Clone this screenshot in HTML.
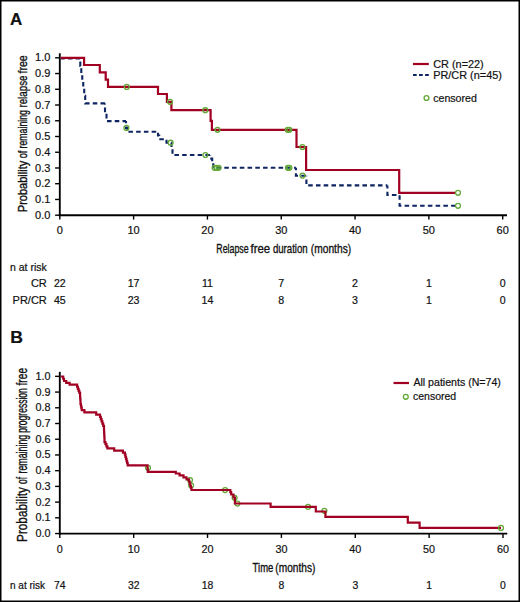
<!DOCTYPE html>
<html><head><meta charset="utf-8"><style>
html,body{margin:0;padding:0;background:#fff;overflow:hidden;width:520px;height:602px;}
svg{display:block;}
text{font-family:"Liberation Sans", sans-serif;fill:#111;stroke:#111;stroke-width:0.2px;}
.t{stroke:#111;stroke-width:0.35px;}
</style></head><body>
<svg width="520" height="602" viewBox="0 0 520 602" font-family='"Liberation Sans", sans-serif'>
<rect x="0.75" y="0.75" width="518.5" height="600.5" fill="#fff" stroke="#000" stroke-width="1.5"/>
<text x="10" y="24.8" font-size="17" font-weight="bold">A</text>
<line x1="59.8" y1="53.3" x2="59.8" y2="216.2" stroke="#000" stroke-width="1.85"/>
<line x1="58.8" y1="215.2" x2="507" y2="215.2" stroke="#000" stroke-width="1.85"/>
<line x1="55.1" y1="215.2" x2="59.8" y2="215.2" stroke="#000" stroke-width="1.4"/>
<text x="50.4" y="218.8" text-anchor="end" font-size="11">0.0</text>
<line x1="55.1" y1="199.46" x2="59.8" y2="199.46" stroke="#000" stroke-width="1.4"/>
<text x="50.4" y="203.06" text-anchor="end" font-size="11">0.1</text>
<line x1="55.1" y1="183.72" x2="59.8" y2="183.72" stroke="#000" stroke-width="1.4"/>
<text x="50.4" y="187.32" text-anchor="end" font-size="11">0.2</text>
<line x1="55.1" y1="167.98" x2="59.8" y2="167.98" stroke="#000" stroke-width="1.4"/>
<text x="50.4" y="171.58" text-anchor="end" font-size="11">0.3</text>
<line x1="55.1" y1="152.24" x2="59.8" y2="152.24" stroke="#000" stroke-width="1.4"/>
<text x="50.4" y="155.84" text-anchor="end" font-size="11">0.4</text>
<line x1="55.1" y1="136.5" x2="59.8" y2="136.5" stroke="#000" stroke-width="1.4"/>
<text x="50.4" y="140.1" text-anchor="end" font-size="11">0.5</text>
<line x1="55.1" y1="120.76" x2="59.8" y2="120.76" stroke="#000" stroke-width="1.4"/>
<text x="50.4" y="124.36" text-anchor="end" font-size="11">0.6</text>
<line x1="55.1" y1="105.02" x2="59.8" y2="105.02" stroke="#000" stroke-width="1.4"/>
<text x="50.4" y="108.62" text-anchor="end" font-size="11">0.7</text>
<line x1="55.1" y1="89.28" x2="59.8" y2="89.28" stroke="#000" stroke-width="1.4"/>
<text x="50.4" y="92.88" text-anchor="end" font-size="11">0.8</text>
<line x1="55.1" y1="73.54" x2="59.8" y2="73.54" stroke="#000" stroke-width="1.4"/>
<text x="50.4" y="77.14" text-anchor="end" font-size="11">0.9</text>
<line x1="55.1" y1="57.8" x2="59.8" y2="57.8" stroke="#000" stroke-width="1.4"/>
<text x="50.4" y="61.4" text-anchor="end" font-size="11">1.0</text>
<line x1="59.8" y1="215.2" x2="59.8" y2="219.6" stroke="#000" stroke-width="1.4"/>
<text x="59.8" y="233.6" text-anchor="middle" font-size="11">0</text>
<line x1="133.62" y1="215.2" x2="133.62" y2="219.6" stroke="#000" stroke-width="1.4"/>
<text x="133.62" y="233.6" text-anchor="middle" font-size="11">10</text>
<line x1="207.43" y1="215.2" x2="207.43" y2="219.6" stroke="#000" stroke-width="1.4"/>
<text x="207.43" y="233.6" text-anchor="middle" font-size="11">20</text>
<line x1="281.25" y1="215.2" x2="281.25" y2="219.6" stroke="#000" stroke-width="1.4"/>
<text x="281.25" y="233.6" text-anchor="middle" font-size="11">30</text>
<line x1="355.07" y1="215.2" x2="355.07" y2="219.6" stroke="#000" stroke-width="1.4"/>
<text x="355.07" y="233.6" text-anchor="middle" font-size="11">40</text>
<line x1="428.88" y1="215.2" x2="428.88" y2="219.6" stroke="#000" stroke-width="1.4"/>
<text x="428.88" y="233.6" text-anchor="middle" font-size="11">50</text>
<line x1="502.7" y1="215.2" x2="502.7" y2="219.6" stroke="#000" stroke-width="1.4"/>
<text x="502.7" y="233.6" text-anchor="middle" font-size="11">60</text>
<path d="M60.8,58.5 L80.3,58.5 L80.3,65.98 L81.28,65.98 L81.28,73.47 L82.26,73.47 L82.26,80.95 L83.24,80.95 L83.24,88.43 L84.22,88.43 L84.22,95.92 L85.2,95.92 L85.2,103.4 L105,103.4" fill="none" stroke="#0e2563" stroke-width="2.1" stroke-dasharray="4.55 3.20" stroke-dashoffset="0.65"/>
<path d="M105,103.4 L105,112.25 L106.5,112.25 L106.5,121.1 L126,121.1" fill="none" stroke="#0e2563" stroke-width="2.1" stroke-dasharray="4.55 3.20" stroke-dashoffset="3.55"/>
<path d="M126,121.1 L126,127.9 L127.3,127.9 L127.3,131.8 L158,131.8" fill="none" stroke="#0e2563" stroke-width="2.1" stroke-dasharray="4.55 3.20" stroke-dashoffset="2.40"/>
<path d="M158,131.8 L158,135.5 L159.2,135.5 L159.2,139.2 L166.5,139.2" fill="none" stroke="#0e2563" stroke-width="2.1" stroke-dasharray="4.55 3.20" stroke-dashoffset="6.80"/>
<path d="M166.5,139.2 L166.5,142.7 L171.5,142.7 L171.5,148.5 L172.5,148.5 L172.5,155 L210.1,155" fill="none" stroke="#0e2563" stroke-width="2.1" stroke-dasharray="4.55 3.20" stroke-dashoffset="7.30"/>
<path d="M210.1,155 L210.1,158.6 L212.2,158.6 L212.2,161.2 L213.3,161.2 L213.3,167.8 L295.9,167.8" fill="none" stroke="#0e2563" stroke-width="2.1" stroke-dasharray="4.55 3.20" stroke-dashoffset="4.00"/>
<path d="M295.9,167.8 L295.9,175.8 L306.4,175.8" fill="none" stroke="#0e2563" stroke-width="2.1" stroke-dasharray="4.55 3.20" stroke-dashoffset="2.20"/>
<path d="M306.4,175.8 L306.4,185.4 L387.4,185.4" fill="none" stroke="#0e2563" stroke-width="2.1" stroke-dasharray="4.55 3.20" stroke-dashoffset="4.10"/>
<path d="M387.4,185.4 L387.4,195 L399.6,195" fill="none" stroke="#0e2563" stroke-width="2.1" stroke-dasharray="4.55 3.20" stroke-dashoffset="1.40"/>
<path d="M399.6,195 L399.6,205.8 L455.3,205.8" fill="none" stroke="#0e2563" stroke-width="2.1" stroke-dasharray="4.55 3.20" stroke-dashoffset="7.45"/>
<path d="M60.8,57.8 L84.1,57.8 L84.1,65 L99.8,65 L99.8,72.4 L105.7,72.4 L105.7,79.6 L108,79.6 L108,86.9 L158,86.9 L158,94 L166.9,94 L166.9,101.8 L171.4,101.8 L171.4,110.2 L210.6,110.2 L210.6,120.8 L211.9,120.8 L211.9,129.8 L296.5,129.8 L296.5,147 L306.1,147 L306.1,170 L399.2,170 L399.2,192.8 L455.4,192.8" fill="none" stroke="#a10022" stroke-width="2.2"/>
<circle cx="126.8" cy="86.9" r="2.45" fill="none" stroke="#62a838" stroke-width="1.3"/>
<circle cx="170" cy="101.8" r="2.45" fill="none" stroke="#62a838" stroke-width="1.3"/>
<circle cx="205.3" cy="110.2" r="2.45" fill="none" stroke="#62a838" stroke-width="1.3"/>
<circle cx="217.5" cy="129.8" r="2.45" fill="none" stroke="#62a838" stroke-width="1.3"/>
<circle cx="287.7" cy="129.8" r="2.45" fill="none" stroke="#62a838" stroke-width="1.3"/>
<circle cx="289.4" cy="129.8" r="2.45" fill="none" stroke="#62a838" stroke-width="1.3"/>
<circle cx="302.4" cy="147" r="2.45" fill="none" stroke="#62a838" stroke-width="1.3"/>
<circle cx="458" cy="192.8" r="2.45" fill="none" stroke="#62a838" stroke-width="1.3"/>
<circle cx="126.4" cy="127.9" r="2.45" fill="none" stroke="#62a838" stroke-width="1.3"/>
<circle cx="170.6" cy="142.7" r="2.45" fill="none" stroke="#62a838" stroke-width="1.3"/>
<circle cx="205.4" cy="155" r="2.45" fill="none" stroke="#62a838" stroke-width="1.3"/>
<circle cx="214.6" cy="167.8" r="2.45" fill="none" stroke="#62a838" stroke-width="1.3"/>
<circle cx="216.6" cy="167.8" r="2.45" fill="none" stroke="#62a838" stroke-width="1.3"/>
<circle cx="218.6" cy="167.8" r="2.45" fill="none" stroke="#62a838" stroke-width="1.3"/>
<circle cx="287.9" cy="167.8" r="2.45" fill="none" stroke="#62a838" stroke-width="1.3"/>
<circle cx="289.4" cy="167.8" r="2.45" fill="none" stroke="#62a838" stroke-width="1.3"/>
<circle cx="302.5" cy="175.6" r="2.45" fill="none" stroke="#62a838" stroke-width="1.3"/>
<circle cx="458" cy="205.8" r="2.45" fill="none" stroke="#62a838" stroke-width="1.3"/>
<line x1="413" y1="64" x2="428.8" y2="64" stroke="#a10022" stroke-width="2.2"/>
<line x1="413" y1="75" x2="428.8" y2="75" stroke="#0e2563" stroke-width="2.1" stroke-dasharray="3.7 2.35"/>
<text x="433.2" y="68" font-size="10.9">CR (n=22)</text>
<text x="433.2" y="78.8" font-size="10.9">PR/CR (n=45)</text>
<circle cx="426.5" cy="98" r="2.45" fill="none" stroke="#62a838" stroke-width="1.3"/>
<text x="433.2" y="101.5" font-size="10.6">censored</text>
<text x="216.34" y="253.0" font-size="13.4" class="t" textLength="32.31" lengthAdjust="spacingAndGlyphs">Relapse</text>
<text x="250.55" y="253.0" font-size="13.4" class="t" textLength="19.61" lengthAdjust="spacingAndGlyphs">free</text>
<text x="272.90" y="253.0" font-size="13.4" class="t" textLength="34.85" lengthAdjust="spacingAndGlyphs">duration</text>
<text x="310.86" y="253.0" font-size="13.4" class="t" textLength="40.29" lengthAdjust="spacingAndGlyphs">(months)</text>
<text transform="translate(26.8,0) rotate(-90)" x="-212.13" y="0" font-size="13.5" class="t" textLength="51.35" lengthAdjust="spacingAndGlyphs">Probability</text>
<text transform="translate(26.8,0) rotate(-90)" x="-158.31" y="0" font-size="13.5" class="t" textLength="7.76" lengthAdjust="spacingAndGlyphs">of</text>
<text transform="translate(26.8,0) rotate(-90)" x="-148.46" y="0" font-size="13.5" class="t" textLength="38.44" lengthAdjust="spacingAndGlyphs">remaining</text>
<text transform="translate(26.8,0) rotate(-90)" x="-107.58" y="0" font-size="13.5" class="t" textLength="32.04" lengthAdjust="spacingAndGlyphs">relapse</text>
<text transform="translate(26.8,0) rotate(-90)" x="-73.56" y="0" font-size="13.5" class="t" textLength="18.30" lengthAdjust="spacingAndGlyphs">free</text>
<text x="10" y="270.5" font-size="10.5">n at risk</text>
<text x="46.8" y="287.2" font-size="11" text-anchor="end">CR</text>
<text x="46.8" y="303.6" font-size="11" text-anchor="end">PR/CR</text>
<text x="59.8" y="287.1" font-size="10.6" text-anchor="middle">22</text>
<text x="59.8" y="303.8" font-size="10.6" text-anchor="middle">45</text>
<text x="133.62" y="287.1" font-size="10.6" text-anchor="middle">17</text>
<text x="133.62" y="303.8" font-size="10.6" text-anchor="middle">23</text>
<text x="207.43" y="287.1" font-size="10.6" text-anchor="middle">11</text>
<text x="207.43" y="303.8" font-size="10.6" text-anchor="middle">14</text>
<text x="281.25" y="287.1" font-size="10.6" text-anchor="middle">7</text>
<text x="281.25" y="303.8" font-size="10.6" text-anchor="middle">8</text>
<text x="355.07" y="287.1" font-size="10.6" text-anchor="middle">2</text>
<text x="355.07" y="303.8" font-size="10.6" text-anchor="middle">3</text>
<text x="428.88" y="287.1" font-size="10.6" text-anchor="middle">1</text>
<text x="428.88" y="303.8" font-size="10.6" text-anchor="middle">1</text>
<text x="502.7" y="287.1" font-size="10.6" text-anchor="middle">0</text>
<text x="502.7" y="303.8" font-size="10.6" text-anchor="middle">0</text>
<text transform="translate(10.3,342.8) scale(1.06,1)" x="0" y="0" font-size="16.6" font-weight="bold">B</text>
<line x1="59.8" y1="371.85" x2="59.8" y2="534.55" stroke="#000" stroke-width="1.85"/>
<line x1="58.8" y1="533.55" x2="507.3" y2="533.55" stroke="#000" stroke-width="1.85"/>
<line x1="55.1" y1="533.55" x2="59.8" y2="533.55" stroke="#000" stroke-width="1.4"/>
<text x="50.5" y="537.05" text-anchor="end" font-size="10.8">0.0</text>
<line x1="55.1" y1="517.83" x2="59.8" y2="517.83" stroke="#000" stroke-width="1.4"/>
<text x="50.5" y="521.33" text-anchor="end" font-size="10.8">0.1</text>
<line x1="55.1" y1="502.11" x2="59.8" y2="502.11" stroke="#000" stroke-width="1.4"/>
<text x="50.5" y="505.61" text-anchor="end" font-size="10.8">0.2</text>
<line x1="55.1" y1="486.39" x2="59.8" y2="486.39" stroke="#000" stroke-width="1.4"/>
<text x="50.5" y="489.89" text-anchor="end" font-size="10.8">0.3</text>
<line x1="55.1" y1="470.67" x2="59.8" y2="470.67" stroke="#000" stroke-width="1.4"/>
<text x="50.5" y="474.17" text-anchor="end" font-size="10.8">0.4</text>
<line x1="55.1" y1="454.95" x2="59.8" y2="454.95" stroke="#000" stroke-width="1.4"/>
<text x="50.5" y="458.45" text-anchor="end" font-size="10.8">0.5</text>
<line x1="55.1" y1="439.23" x2="59.8" y2="439.23" stroke="#000" stroke-width="1.4"/>
<text x="50.5" y="442.73" text-anchor="end" font-size="10.8">0.6</text>
<line x1="55.1" y1="423.51" x2="59.8" y2="423.51" stroke="#000" stroke-width="1.4"/>
<text x="50.5" y="427.01" text-anchor="end" font-size="10.8">0.7</text>
<line x1="55.1" y1="407.79" x2="59.8" y2="407.79" stroke="#000" stroke-width="1.4"/>
<text x="50.5" y="411.29" text-anchor="end" font-size="10.8">0.8</text>
<line x1="55.1" y1="392.07" x2="59.8" y2="392.07" stroke="#000" stroke-width="1.4"/>
<text x="50.5" y="395.57" text-anchor="end" font-size="10.8">0.9</text>
<line x1="55.1" y1="376.35" x2="59.8" y2="376.35" stroke="#000" stroke-width="1.4"/>
<text x="50.5" y="379.85" text-anchor="end" font-size="10.8">1.0</text>
<line x1="59.8" y1="533.55" x2="59.8" y2="537.95" stroke="#000" stroke-width="1.4"/>
<text x="59.8" y="552.6" text-anchor="middle" font-size="10.8">0</text>
<line x1="133.67" y1="533.55" x2="133.67" y2="537.95" stroke="#000" stroke-width="1.4"/>
<text x="133.67" y="552.6" text-anchor="middle" font-size="10.8">10</text>
<line x1="207.53" y1="533.55" x2="207.53" y2="537.95" stroke="#000" stroke-width="1.4"/>
<text x="207.53" y="552.6" text-anchor="middle" font-size="10.8">20</text>
<line x1="281.4" y1="533.55" x2="281.4" y2="537.95" stroke="#000" stroke-width="1.4"/>
<text x="281.4" y="552.6" text-anchor="middle" font-size="10.8">30</text>
<line x1="355.27" y1="533.55" x2="355.27" y2="537.95" stroke="#000" stroke-width="1.4"/>
<text x="355.27" y="552.6" text-anchor="middle" font-size="10.8">40</text>
<line x1="429.13" y1="533.55" x2="429.13" y2="537.95" stroke="#000" stroke-width="1.4"/>
<text x="429.13" y="552.6" text-anchor="middle" font-size="10.8">50</text>
<line x1="503" y1="533.55" x2="503" y2="537.95" stroke="#000" stroke-width="1.4"/>
<text x="503" y="552.6" text-anchor="middle" font-size="10.8">60</text>
<circle cx="148" cy="467.8" r="2.45" fill="none" stroke="#62a838" stroke-width="1.3"/>
<circle cx="190" cy="480.1" r="2.45" fill="none" stroke="#62a838" stroke-width="1.3"/>
<circle cx="191.1" cy="485.3" r="2.45" fill="none" stroke="#62a838" stroke-width="1.3"/>
<circle cx="225.1" cy="490.1" r="2.45" fill="none" stroke="#62a838" stroke-width="1.3"/>
<circle cx="234.6" cy="497.8" r="2.45" fill="none" stroke="#62a838" stroke-width="1.3"/>
<circle cx="237.4" cy="503.6" r="2.45" fill="none" stroke="#62a838" stroke-width="1.3"/>
<circle cx="308.1" cy="506.9" r="2.45" fill="none" stroke="#62a838" stroke-width="1.3"/>
<circle cx="324.4" cy="510.8" r="2.45" fill="none" stroke="#62a838" stroke-width="1.3"/>
<path d="M60.8,376.5 L63.2,376.5 L63.2,378.75 L64,378.75 L64,381 L66.2,381 L66.2,382.8 L69.6,382.8 L69.6,384.7 L77.1,384.7 L77.1,386.76 L77.85,386.76 L77.85,388.82 L78.6,388.82 L78.6,390.88 L79.35,390.88 L79.35,392.94 L80.1,392.94 L80.1,395 L80.1,397.33 L80.3,397.33 L80.3,399.67 L80.5,399.67 L80.5,402 L80.5,404.02 L80.93,404.02 L80.93,406.05 L81.37,406.05 L81.37,408.08 L81.8,408.08 L81.8,410.1 L84.4,410.1 L84.4,412.3 L96.2,412.3 L96.2,414.7 L100,414.7 L100,416.92 L100.8,416.92 L100.8,419.13 L101.6,419.13 L101.6,421.35 L102.4,421.35 L102.4,423.57 L103.2,423.57 L103.2,425.78 L104,425.78 L104,428 L104,430 L104.1,430 L104.1,432 L104.2,432 L104.2,434 L104.3,434 L104.3,436 L104.4,436 L104.4,438 L104.5,438 L104.5,440 L104.5,442.1 L105.47,442.1 L105.47,444.2 L106.43,444.2 L106.43,446.3 L107.4,446.3 L107.4,448.4 L114.2,448.4 L114.2,450.7 L122.9,450.7 L122.9,452.6 L124.9,452.6 L124.9,454.72 L125.46,454.72 L125.46,456.83 L126.02,456.83 L126.02,458.95 L126.58,458.95 L126.58,461.07 L127.14,461.07 L127.14,463.18 L127.7,463.18 L127.7,465.3 L147.5,465.3 L147.5,467.5 L147.65,467.5 L147.65,469.7 L147.8,469.7 L147.8,471.9 L175.8,471.9 L175.8,473.5 L179.6,473.5 L179.6,475.3 L183.5,475.3 L183.5,477.3 L186.5,477.3 L186.5,479.4 L189,479.4 L189,481.52 L189.62,481.52 L189.62,483.64 L190.25,483.64 L190.25,485.76 L190.88,485.76 L190.88,487.88 L191.5,487.88 L191.5,490 L230.3,490 L230.3,492.2 L231.2,492.2 L231.2,494.5 L233.5,494.5 L233.5,497.5 L234.9,497.5 L234.9,503.5 L270.6,503.5 L270.6,506.9 L315.8,506.9 L315.8,511.5 L325.4,511.5 L325.4,516.9 L407.8,516.9 L407.8,522.6 L419.6,522.6 L419.6,527.9 L501,527.9" fill="none" stroke="#a10022" stroke-width="2.2" stroke-linejoin="miter"/>
<circle cx="501" cy="527.9" r="2.45" fill="none" stroke="#62a838" stroke-width="1.3"/>
<line x1="393.5" y1="383" x2="409" y2="383" stroke="#a10022" stroke-width="2.2"/>
<text x="413.4" y="386.4" font-size="10.6">All patients (N=74)</text>
<circle cx="405.8" cy="396.8" r="2.45" fill="none" stroke="#62a838" stroke-width="1.3"/>
<text x="413" y="400" font-size="10.5">censored</text>
<text x="252.62" y="571.6" font-size="13.3" class="t" textLength="20.74" lengthAdjust="spacingAndGlyphs">Time</text>
<text x="275.33" y="571.6" font-size="13.3" class="t" textLength="40.10" lengthAdjust="spacingAndGlyphs">(months)</text>
<text transform="translate(26.7,0) rotate(-90)" x="-541.95" y="0" font-size="13.8" class="t" textLength="54.91" lengthAdjust="spacingAndGlyphs">Probability</text>
<text transform="translate(26.7,0) rotate(-90)" x="-483.89" y="0" font-size="13.8" class="t" textLength="7.08" lengthAdjust="spacingAndGlyphs">of</text>
<text transform="translate(26.7,0) rotate(-90)" x="-473.48" y="0" font-size="13.8" class="t" textLength="38.73" lengthAdjust="spacingAndGlyphs">remaining</text>
<text transform="translate(26.7,0) rotate(-90)" x="-432.71" y="0" font-size="13.8" class="t" textLength="44.51" lengthAdjust="spacingAndGlyphs">progression</text>
<text transform="translate(26.7,0) rotate(-90)" x="-385.47" y="0" font-size="13.8" class="t" textLength="17.52" lengthAdjust="spacingAndGlyphs">free</text>
<text x="10" y="588.9" font-size="10">n at risk</text>
<text x="59.8" y="589" font-size="10.4" text-anchor="middle">74</text>
<text x="133.67" y="589" font-size="10.4" text-anchor="middle">32</text>
<text x="207.53" y="589" font-size="10.4" text-anchor="middle">18</text>
<text x="281.4" y="589" font-size="10.4" text-anchor="middle">8</text>
<text x="355.27" y="589" font-size="10.4" text-anchor="middle">3</text>
<text x="429.13" y="589" font-size="10.4" text-anchor="middle">1</text>
<text x="503" y="589" font-size="10.4" text-anchor="middle">0</text>
</svg>
</body></html>
